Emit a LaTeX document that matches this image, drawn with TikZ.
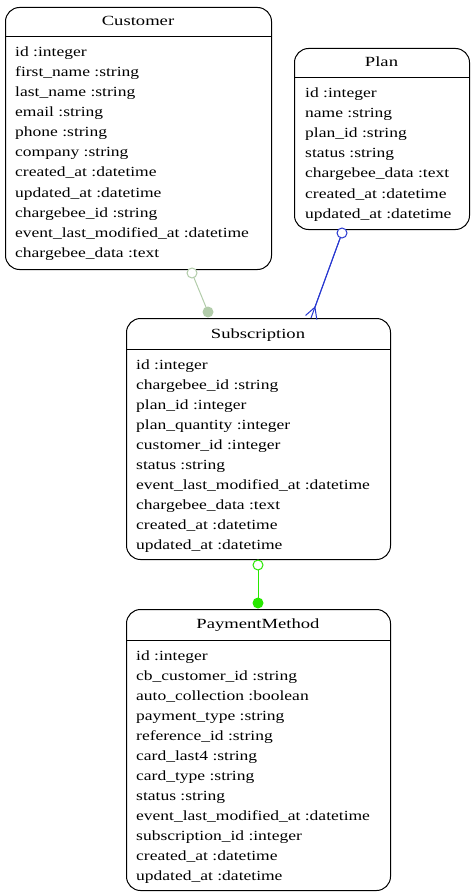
\documentclass[tikz,border=0pt]{standalone}
\usepackage{fontspec}
\setmainfont{Liberation Serif}[FakeStretch=1.25]
\newfontfamily\titlefont{Liberation Serif}[FakeStretch=1.33]
\usetikzlibrary{arrows.meta}
\definecolor{palegreen}{RGB}{178,204,170}
\definecolor{relblue}{RGB}{40,56,208}
\definecolor{relgreen}{RGB}{40,232,0}
\begin{document}
\begin{tikzpicture}[x=1pt,y=-1pt,
  tbl/.style={draw,rounded corners=14pt,line width=1pt,anchor=north west,inner sep=0pt},
  ttl/.style={anchor=base,inner sep=0pt,font=\titlefont\fontsize{14}{16}\selectfont},
  fld/.style={anchor=base west,inner sep=0pt,font=\fontsize{14}{16}\selectfont},
  rel/.style={line width=1pt},
  opn/.style={circle,draw,line width=1pt,fill=white,inner sep=0pt,minimum size=10pt},
  dot/.style={circle,fill,inner sep=0pt,minimum size=11pt}]
\useasboundingbox (0,0) rectangle (473,896);

% Customer
\node[tbl,minimum width=266pt,minimum height=262pt] (cust) at (5,7) {};
\node[ttl] (custT) at (138,26) {Customer};
\draw[line width=1pt] (5,37) -- (271,37);
\foreach \t [count=\i] in {id :integer,first\_name :string,last\_name :string,
  email :string,phone :string,company :string,created\_at :datetime,
  updated\_at :datetime,chargebee\_id :string,
  event\_last\_modified\_at :datetime,chargebee\_data :text}
  \node[fld] (cust-\i) at (15,37+20*\i) {\t};

% Plan
\node[tbl,minimum width=175pt,minimum height=181pt] (plan) at (294,48) {};
\node[ttl] (planT) at (381.5,67) {Plan};
\draw[line width=1pt] (294,78) -- (469,78);
\foreach \t [count=\i] in {id :integer,name :string,plan\_id :string,
  status :string,chargebee\_data :text,created\_at :datetime,
  updated\_at :datetime}
  \node[fld] (plan-\i) at (305,78+20*\i) {\t};

% Subscription
\node[tbl,minimum width=264pt,minimum height=241pt] (sub) at (126,318) {};
\node[ttl] (subT) at (258,338) {Subscription};
\draw[line width=1pt] (126,349) -- (390,349);
\foreach \t [count=\i] in {id :integer,chargebee\_id :string,plan\_id :integer,
  plan\_quantity :integer,customer\_id :integer,status :string,
  event\_last\_modified\_at :datetime,chargebee\_data :text,
  created\_at :datetime,updated\_at :datetime}
  \node[fld] (sub-\i) at (136,349+20*\i) {\t};

% PaymentMethod
\node[tbl,minimum width=264pt,minimum height=281pt] (pm) at (126,609) {};
\node[ttl] (pmT) at (258,628) {PaymentMethod};
\draw[line width=1pt] (126,640) -- (390,640);
\foreach \t [count=\i] in {id :integer,cb\_customer\_id :string,
  auto\_collection :boolean,payment\_type :string,reference\_id :string,
  card\_last4 :string,card\_type :string,status :string,
  event\_last\_modified\_at :datetime,subscription\_id :integer,
  created\_at :datetime,updated\_at :datetime}
  \node[fld] (pm-\i) at (136,640+20*\i) {\t};

% relations
\draw[rel,palegreen] (192,273) -- (208,312);
\node[opn,draw=palegreen] (cs1) at (192,273) {};
\node[dot,palegreen] (cs2) at (208,312) {};

\coordinate (ps2) at (311,318);
\node[opn,draw=relblue] (ps1) at (342,233) {};
\draw[rel,relblue] (ps1) -- (ps2);
\draw[rel,relblue,-{Straight Barb[reversed,length=11pt,width=12pt,line width=1pt]}] (ps1) -- (ps2);

\draw[rel,relgreen] (258,565) -- (258,603);
\node[opn,draw=relgreen] (sp1) at (258,565) {};
\node[dot,relgreen] (sp2) at (258,603) {};
\end{tikzpicture}
\end{document}
